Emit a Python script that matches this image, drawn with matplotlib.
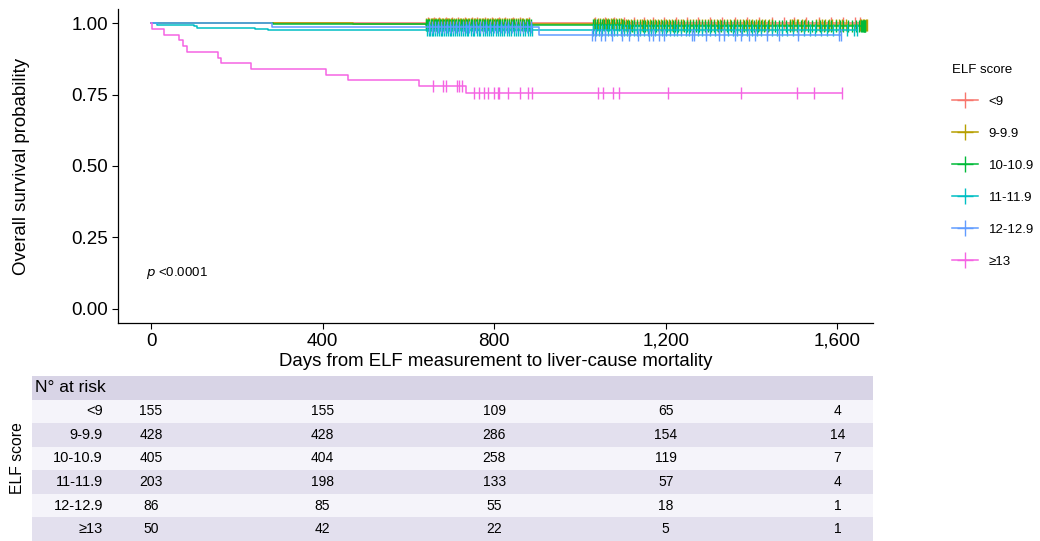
import numpy as np
import matplotlib.pyplot as plt
from matplotlib.lines import Line2D

plt.rcParams['font.family'] = ['Liberation Sans', 'DejaVu Sans']

groups = ['<9', '9-9.9', '10-10.9', '11-11.9', '12-12.9', '≥13']
colors = ['#F8766D', '#B79F00', '#00BA38', '#00BFC4', '#619CFF', '#F564E3']

# step curves: event times and survival right after each event, last follow-up
event_times = [
    [],
    [470, 1100],
    [285, 640, 1100],
    [13, 99, 107, 243, 272],
    [282, 905],
    [2, 31, 66, 74, 83, 155, 163, 232, 407, 459, 625, 734],
]
event_surv = [
    [],
    [0.9975, 0.993],
    [0.9975, 0.995, 0.99],
    [0.995, 0.99, 0.985, 0.98, 0.975],
    [0.988, 0.96],
    [0.98, 0.96, 0.94, 0.92, 0.90, 0.88, 0.86, 0.84, 0.82, 0.80, 0.78, 0.755],
]
last_time = [1652, 1670, 1665, 1645, 1608, 1610]

censor_times = [
    [645, 660, 671, 688, 702, 715, 733, 748, 760, 779, 794, 812, 826, 843, 861, 880,
     1036, 1058, 1079, 1102, 1125, 1150, 1171, 1196, 1224, 1250, 1276, 1303, 1331,
     1362, 1390, 1418, 1447, 1476, 1499, 1527, 1556, 1584, 1612, 1640, 1652],
    [642, 645, 648, 652, 655, 658, 661, 665, 668, 671, 674, 678, 681, 685, 689, 692,
     695, 699, 702, 706, 711, 716, 720, 723, 727, 731, 734, 738, 742, 745, 749, 752,
     756, 761, 764, 768, 772, 775, 779, 783, 786, 790, 794, 798, 802, 806, 809, 813,
     818, 822, 825, 829, 834, 838, 842, 846, 850, 855, 860, 864, 868, 873, 877, 882,
     1032, 1041, 1047, 1053, 1060, 1066, 1072, 1078, 1084, 1090, 1096, 1101, 1107,
     1113, 1120, 1126, 1132, 1139, 1144, 1150, 1157, 1163, 1169, 1175, 1182, 1188,
     1195, 1201, 1208, 1214, 1221, 1228, 1235, 1241, 1249, 1256, 1263, 1270, 1278,
     1285, 1292, 1299, 1306, 1312, 1320, 1327, 1335, 1342, 1350, 1358, 1366, 1373,
     1380, 1387, 1395, 1402, 1410, 1418, 1424, 1431, 1440, 1447, 1490, 1495, 1500,
     1505, 1509, 1517, 1524, 1550, 1557, 1563, 1571, 1580, 1588, 1596, 1603, 1611,
     1619, 1652, 1656, 1660, 1663, 1666, 1670],
    [640, 643, 646, 649, 652, 656, 659, 662, 664, 667, 670, 674, 677, 681, 684, 687,
     690, 694, 697, 701, 705, 708, 712, 715, 719, 722, 726, 730, 734, 737, 741, 745,
     749, 753, 757, 760, 764, 768, 772, 776, 779, 783, 787, 791, 795, 799, 803, 806,
     810, 814, 818, 822, 826, 830, 835, 839, 843, 847, 851, 856, 860, 865, 869, 873,
     878, 882, 886, 1030, 1035, 1040, 1046, 1051, 1057, 1062, 1068, 1074, 1080, 1086,
     1091, 1097, 1103, 1109, 1115, 1121, 1127, 1134, 1140, 1146, 1152, 1158, 1165,
     1171, 1177, 1183, 1190, 1196, 1203, 1209, 1216, 1222, 1229, 1236, 1242, 1249,
     1256, 1263, 1270, 1277, 1284, 1291, 1298, 1306, 1313, 1321, 1328, 1336, 1343,
     1351, 1359, 1366, 1374, 1382, 1390, 1398, 1406, 1414, 1422, 1430, 1438, 1447,
     1455, 1463, 1472, 1480, 1489, 1497, 1506, 1515, 1523, 1532, 1541, 1550, 1559,
     1568, 1577, 1586, 1596, 1605, 1614, 1624, 1633, 1643, 1650, 1655, 1657, 1659,
     1661, 1662, 1664, 1665],
    [643, 647, 650, 654, 658, 662, 667, 671, 675, 679, 683, 688, 692, 696, 700, 705,
     709, 714, 718, 722, 727, 731, 736, 740, 745, 750, 754, 759, 764, 768, 773, 778,
     783, 788, 793, 798, 803, 808, 813, 818, 823, 829, 834, 839, 845, 850, 856, 861,
     867, 872, 878, 883, 888, 1031, 1038, 1044, 1051, 1058, 1065, 1072, 1080, 1087,
     1095, 1102, 1110, 1117, 1125, 1133, 1141, 1149, 1158, 1166, 1174, 1183, 1192,
     1200, 1209, 1218, 1227, 1236, 1246, 1255, 1265, 1274, 1284, 1294, 1304, 1314,
     1325, 1335, 1346, 1356, 1367, 1378, 1389, 1400, 1412, 1423, 1435, 1447, 1459,
     1471, 1483, 1496, 1509, 1522, 1535, 1548, 1561, 1575, 1589, 1603, 1622, 1638,
     1645],
    [648, 655, 661, 668, 676, 683, 690, 698, 705, 712, 719, 727, 734, 742, 750, 758,
     766, 774, 782, 790, 799, 807, 815, 824, 832, 841, 850, 859, 868, 877, 886,
     1028, 1035, 1050, 1058, 1074, 1097, 1115, 1136, 1160, 1171, 1183, 1195, 1261,
     1265, 1294, 1323, 1335, 1361, 1376, 1393, 1409, 1436, 1464, 1509, 1604, 1608],
    [657, 680, 688, 713, 717, 725, 754, 765, 777, 785, 800, 809, 812, 832, 861, 879,
     888, 1041, 1054, 1078, 1091, 1206, 1376, 1506, 1545, 1610],
]

risk_times = [0, 400, 800, 1200, 1600]
n_at_risk = [
    [155, 155, 109, 65, 4],
    [428, 428, 286, 154, 14],
    [405, 404, 258, 119, 7],
    [203, 198, 133, 57, 4],
    [86, 85, 55, 18, 1],
    [50, 42, 22, 5, 1],
]

W, H = 1040, 541
fig = plt.figure(figsize=(W / 100, H / 100), dpi=100)

# main panel (pixel box 118..873 x 9..323)
ax_l, ax_r, ax_t, ax_b = 118, 873, 9, 323
ax = fig.add_axes([ax_l / W, 1 - ax_b / H, (ax_r - ax_l) / W, (ax_b - ax_t) / H])
xmin, xmax = -77, 1683
ax.set_xlim(xmin, xmax)
ax.set_ylim(-0.05, 1.05)


def surv_at(t, times, surv):
    s = 1.0
    for et, ev in zip(times, surv):
        if et <= t:
            s = ev
    return s


for g, col, et, es, lt, ct in zip(groups, colors, event_times, event_surv,
                                  last_time, censor_times):
    xs = [0] + et + [lt]
    ys = [1.0] + es + [es[-1] if es else 1.0]
    ax.step(xs, ys, where='post', color=col, lw=1.1)
    cy = [surv_at(t, et, es) for t in ct]
    ax.plot(ct, cy, ls='none', marker='|', ms=8, mew=1.0, color=col)

for s in ['top', 'right']:
    ax.spines[s].set_visible(False)
ax.spines['left'].set_linewidth(0.9)
ax.spines['bottom'].set_linewidth(0.9)
ax.set_xticks(risk_times)
ax.set_xticklabels([f'{t:,}' for t in risk_times])
ax.set_yticks([0, 0.25, 0.5, 0.75, 1.0])
ax.set_yticklabels(['0.00', '0.25', '0.50', '0.75', '1.00'])
ax.tick_params(labelsize=13.5, colors='black', length=4, width=0.8, pad=3)
ax.set_xlabel('Days from ELF measurement to liver-cause mortality', fontsize=13.4, labelpad=2)
ax.set_ylabel('Overall survival probability', fontsize=13.4, labelpad=30)

ax.text(-12, 0.125, r'$\it{p}$ <0.0001', fontsize=9.5, ha='left', va='center')

# legend
handles = [Line2D([0], [0], color=c, lw=1.1, marker='+', ms=12, mew=1.0) for c in colors]
leg = fig.legend(handles, groups, title='ELF score', loc='upper left',
                 bbox_to_anchor=(940 / W, 1 - 52 / H), frameon=False,
                 fontsize=9.5, title_fontsize=9.5, handlelength=2.0,
                 labelspacing=1.5, handletextpad=0.8)
leg._legend_box.align = 'left'

# risk table (pixel box 32..873 x 376..541)
tb_l, tb_r, tb_t, tb_b = 32, 873, 376, 541
tx = fig.add_axes([tb_l / W, 1 - tb_b / H, (tb_r - tb_l) / W, (tb_b - tb_t) / H])
px_per_day = (ax_r - ax_l) / (xmax - xmin)
tx.set_xlim(xmin - (ax_l - tb_l) / px_per_day, xmax)
n_rows = len(groups) + 1
tx.set_ylim(0, n_rows)
tx.axis('off')

header_col = '#D8D4E6'
light_col = '#F5F4FA'
dark_col = '#E3E0EE'
tx.axhspan(n_rows - 1, n_rows, color=header_col, lw=0, zorder=0)
tx.text(0.003, n_rows - 0.5, 'N° at risk', transform=tx.get_yaxis_transform(),
        fontsize=12.5, ha='left', va='center')
for i, (g, row) in enumerate(zip(groups, n_at_risk)):
    yc = n_rows - 1.5 - i
    tx.axhspan(yc - 0.5, yc + 0.5, color=light_col if i % 2 == 0 else dark_col,
               lw=0, zorder=0)
    tx.text((103 - tb_l) / (tb_r - tb_l), yc, g, transform=tx.get_yaxis_transform(),
            fontsize=10.5, ha='right', va='center')
    for t, n in zip(risk_times, row):
        tx.text(t, yc, str(n), fontsize=10, ha='center', va='center')

fig.text(18 / W, 1 - 458 / H, 'ELF score', rotation=90, fontsize=11.3,
         ha='center', va='center')

fig.savefig('out.png', dpi=100)
